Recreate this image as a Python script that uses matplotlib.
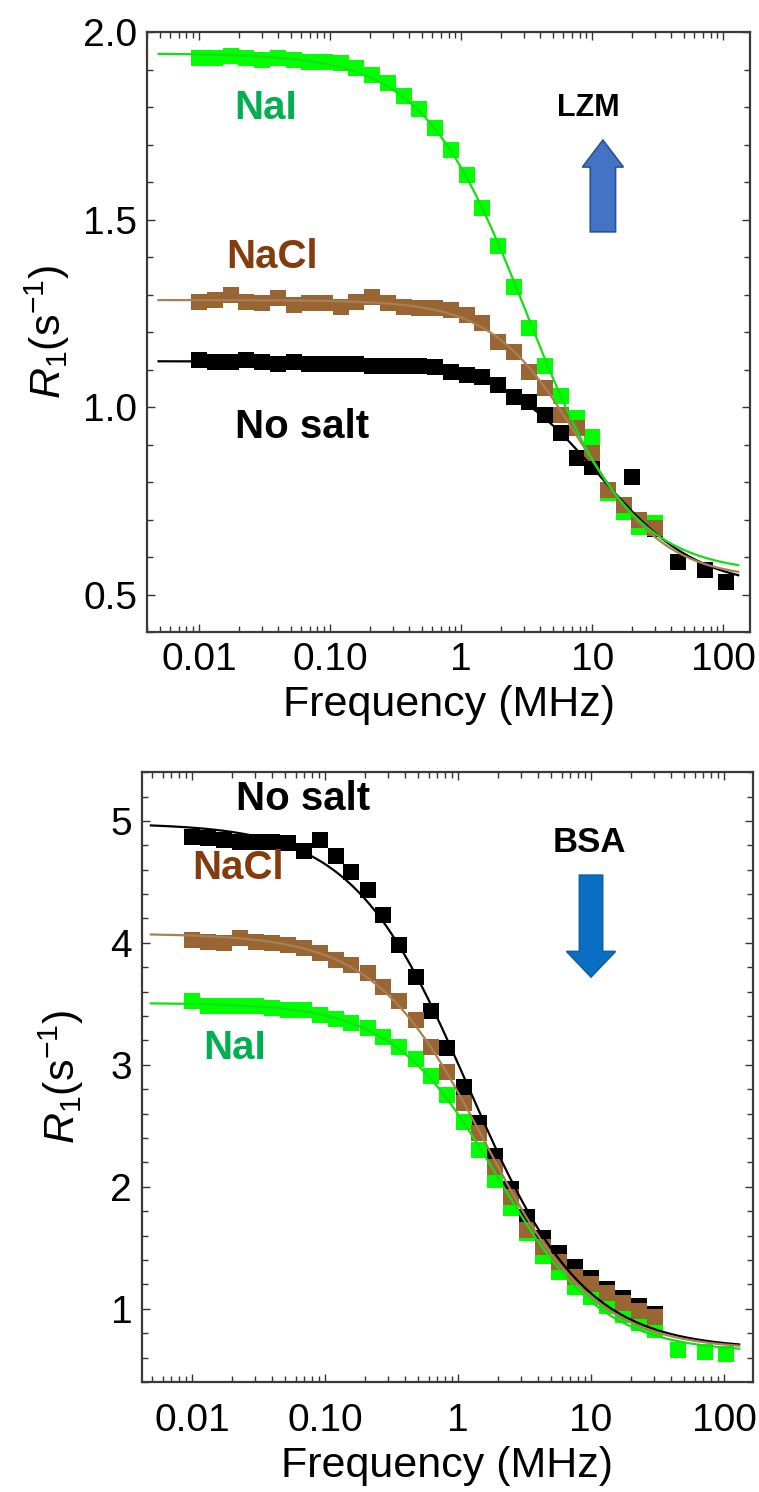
import numpy as np
import matplotlib.pyplot as plt
from matplotlib.patches import FancyArrow
from matplotlib.ticker import LogLocator, MultipleLocator, NullFormatter

plt.rcParams['font.family'] = ['Liberation Sans', 'DejaVu Sans']
plt.rcParams['mathtext.fontset'] = 'custom'
plt.rcParams['mathtext.rm'] = 'Liberation Sans'
plt.rcParams['mathtext.it'] = 'Liberation Sans:italic'

# field-cycling frequencies (MHz)
freq = [0.0100, 0.0132, 0.0174, 0.0229, 0.0302, 0.0398, 0.0525, 0.0692, 0.0912, 0.120,
        0.158, 0.209, 0.275, 0.363, 0.479, 0.631, 0.832, 1.10, 1.45, 1.91,
        2.51, 3.31, 4.37, 5.75, 7.59, 10.0, 13.2, 17.4, 22.9, 30.2]

# LZM (top panel)
lzm_nai = [1.93, 1.93, 1.935, 1.93, 1.925, 1.93, 1.925, 1.92, 1.92, 1.917,
           1.905, 1.885, 1.864, 1.83, 1.795, 1.745, 1.685, 1.62, 1.53, 1.43,
           1.32, 1.21, 1.11, 1.03, 0.97, 0.92, 0.77, 0.72, 0.68, 0.69]
lzm_nacl = [1.28, 1.285, 1.30, 1.28, 1.277, 1.29, 1.272, 1.277, 1.277, 1.267,
            1.28, 1.293, 1.277, 1.267, 1.264, 1.264, 1.26, 1.245, 1.225, 1.173,
            1.147, 1.093, 1.051, 0.979, 0.944, 0.877, 0.779, 0.739, 0.699, 0.677]
lzm_nosalt = [1.125, 1.12, 1.12, 1.125, 1.12, 1.115, 1.12, 1.115, 1.115, 1.115,
              1.115, 1.11, 1.11, 1.11, 1.11, 1.107, 1.093, 1.085, 1.08, 1.059,
              1.027, 1.013, 0.979, 0.93, 0.864, 0.84, 0.77, 0.73, 0.69, 0.675]
freq_lzm_hf = [20.0, 45.0, 72.0, 104.0]
lzm_nosalt_hf = [0.813, 0.587, 0.565, 0.533]

# BSA (bottom panel)
bsa_nosalt = [4.87, 4.86, 4.84, 4.83, 4.83, 4.83, 4.82, 4.75, 4.84, 4.71,
              4.58, 4.43, 4.23, 3.98, 3.72, 3.44, 3.14, 2.82, 2.52, 2.25,
              1.98, 1.75, 1.58, 1.46, 1.34, 1.25, 1.16, 1.09, 1.02, 0.96]
bsa_nacl = [4.025, 4.01, 4.00, 4.04, 4.01, 4.00, 3.98, 3.96, 3.92, 3.86,
            3.82, 3.75, 3.64, 3.52, 3.37, 3.15, 2.94, 2.69, 2.44, 2.16,
            1.92, 1.65, 1.51, 1.38, 1.26, 1.20, 1.13, 1.05, 0.98, 0.93]
bsa_nai = [3.52, 3.48, 3.48, 3.48, 3.48, 3.47, 3.45, 3.45, 3.41, 3.38,
           3.34, 3.30, 3.23, 3.15, 3.05, 2.91, 2.75, 2.53, 2.30, 2.06,
           1.83, 1.62, 1.43, 1.30, 1.18, 1.10, 1.02, 0.95, 0.88, 0.83]
freq_bsa_hf = [45.0, 72.0, 104.0]
bsa_nai_hf = [0.66, 0.65, 0.63]

# value of each fitted curve where it ends (read at 130 MHz)
f_end = 130.0
lzm_end = {'nai': 0.578, 'nacl': 0.56, 'nosalt': 0.552}
bsa_end = {'nosalt': 0.70, 'nacl': 0.69, 'nai': 0.675}

GREEN, BROWN, BLACK = '#00ff00', '#996633', '#000000'
GREEN_LINE, BROWN_LINE = '#11e011', '#a97f55'


def fit_curve(f, r, end_val, f_line):
    # R1 = a + b / (1 + (f/fc)^p); end point of the curve added with a heavy weight
    f = np.append(np.asarray(f, float), f_end)
    r = np.append(np.asarray(r, float), end_val)
    w = np.ones_like(f)
    w[-1] = 8.0
    best = None
    for fc in np.logspace(-1, 2, 121):
        for p in np.linspace(0.4, 2.5, 43):
            g = 1.0 / (1.0 + (f / fc) ** p)
            A = np.column_stack([np.ones_like(f), g])
            coef, *_ = np.linalg.lstsq(A * w[:, None], r * w, rcond=None)
            sse = np.sum(((A @ coef - r) * w) ** 2)
            if best is None or sse < best[0]:
                best = (sse, fc, p, coef)
    _, fc, p, (a, b) = best
    return a + b / (1.0 + (f_line / fc) ** p)


def style_axes(ax, xlim, xpad):
    ax.set_xscale('log')
    ax.set_xlim(*xlim)
    ax.set_xticks([0.01, 0.1, 1, 10, 100])
    ax.set_xticklabels(['0.01', '0.10', '1', '10', '100'])
    ax.xaxis.set_minor_locator(LogLocator(base=10, subs=np.arange(2, 10), numticks=20))
    ax.xaxis.set_minor_formatter(NullFormatter())
    ax.tick_params(which='both', direction='in', top=True, right=True,
                   color='#333333', width=1.0)
    ax.tick_params(which='major', length=6, labelsize=28, pad=7)
    ax.tick_params(axis='x', which='major', pad=xpad)
    ax.tick_params(which='minor', length=4)
    for s in ax.spines.values():
        s.set_color('#3a3a3a')
        s.set_linewidth(1.6)
    ax.set_xlabel('Frequency (MHz)', fontsize=31, labelpad=5)
    ax.set_ylabel(r'$R_1(\mathrm{s}^{-1})$', fontsize=31)


fig = plt.figure(figsize=(7.59, 14.92), dpi=100)
ax1 = fig.add_axes([0.1937, 0.5764, 0.7945, 0.4021])
ax2 = fig.add_axes([0.187, 0.0737, 0.805, 0.4088])

f_line = np.logspace(np.log10(0.0049), np.log10(f_end), 300)
ms = 11

# ---- top: LZM ----
ax1.plot(freq + freq_lzm_hf, lzm_nosalt + lzm_nosalt_hf, 's', color=BLACK, ms=ms, mew=0, zorder=2)
ax1.plot(freq, lzm_nai, 's', color=GREEN, ms=ms, mew=0, zorder=3)
ax1.plot(freq, lzm_nacl, 's', color=BROWN, ms=ms, mew=0, zorder=4)
ax1.plot(f_line, fit_curve(freq + freq_lzm_hf, lzm_nosalt + lzm_nosalt_hf, lzm_end['nosalt'], f_line),
         color=BLACK, lw=1.6, zorder=5)
ax1.plot(f_line, fit_curve(freq, lzm_nacl, lzm_end['nacl'], f_line), color=BROWN_LINE, lw=1.6, zorder=5)
ax1.plot(f_line, fit_curve(freq, lzm_nai, lzm_end['nai'], f_line), color=GREEN_LINE, lw=1.6, zorder=5)

style_axes(ax1, (0.0040, 160), 7)
ax1.set_ylim(0.4, 2.0)
ax1.set_yticks([0.5, 1.0, 1.5, 2.0])
ax1.set_yticklabels(['0.5', '1.0', '1.5', '2.0'])
ax1.yaxis.set_minor_locator(MultipleLocator(0.1))
ax1.yaxis.set_label_coords(-0.125, 0.5)

ax1.text(0.032, 1.797, 'NaI', color='#00b050', fontsize=29, fontweight='bold', ha='center', va='center')
ax1.text(0.036, 1.40, 'NaCl', color='#843c0c', fontsize=29, fontweight='bold', ha='center', va='center')
ax1.text(0.061, 0.947, 'No salt', color='black', fontsize=29, fontweight='bold', ha='center', va='center')
ax1.text(9.3, 1.797, 'LZM', color='black', fontsize=22, fontweight='bold', ha='center', va='center')
ax1.add_patch(FancyArrow(0.756, 0.667, 0, 0.153, width=0.042, head_width=0.068,
                         head_length=0.045, length_includes_head=True,
                         transform=ax1.transAxes, fc='#4472c4', ec='#2f528f', lw=1.2))

# ---- bottom: BSA ----
ax2.plot(freq, bsa_nosalt, 's', color=BLACK, ms=ms, mew=0, zorder=2)
ax2.plot(freq + freq_bsa_hf, bsa_nai + bsa_nai_hf, 's', color=GREEN, ms=ms, mew=0, zorder=3)
ax2.plot(freq, bsa_nacl, 's', color=BROWN, ms=ms, mew=0, zorder=4)
ax2.plot(f_line, fit_curve(freq, bsa_nosalt, bsa_end['nosalt'], f_line), color=BLACK, lw=1.6, zorder=5)
ax2.plot(f_line, fit_curve(freq, bsa_nacl, bsa_end['nacl'], f_line), color=BROWN_LINE, lw=1.6, zorder=5)
ax2.plot(f_line, fit_curve(freq + freq_bsa_hf, bsa_nai + bsa_nai_hf, bsa_end['nai'], f_line),
         color=GREEN_LINE, lw=1.6, zorder=5)

style_axes(ax2, (0.0042, 165), 15)
ax2.set_ylim(0.4, 5.4)
ax2.set_yticks([1, 2, 3, 4, 5])
ax2.yaxis.set_minor_locator(MultipleLocator(0.2))
ax2.yaxis.set_label_coords(-0.092, 0.5)

ax2.text(0.0684, 5.18, 'No salt', color='black', fontsize=29, fontweight='bold', ha='center', va='center')
ax2.text(0.0222, 4.61, 'NaCl', color='#843c0c', fontsize=29, fontweight='bold', ha='center', va='center')
ax2.text(0.021, 3.14, 'NaI', color='#00b050', fontsize=29, fontweight='bold', ha='center', va='center')
ax2.text(9.8, 4.82, 'BSA', color='black', fontsize=25, fontweight='bold', ha='center', va='center')
ax2.add_patch(FancyArrow(0.735, 0.831, 0, -0.167, width=0.038, head_width=0.08,
                         head_length=0.042, length_includes_head=True,
                         transform=ax2.transAxes, fc='#0a6fc2', ec='#0a5fa8', lw=1.2))

fig.savefig('out.png', dpi=100)
